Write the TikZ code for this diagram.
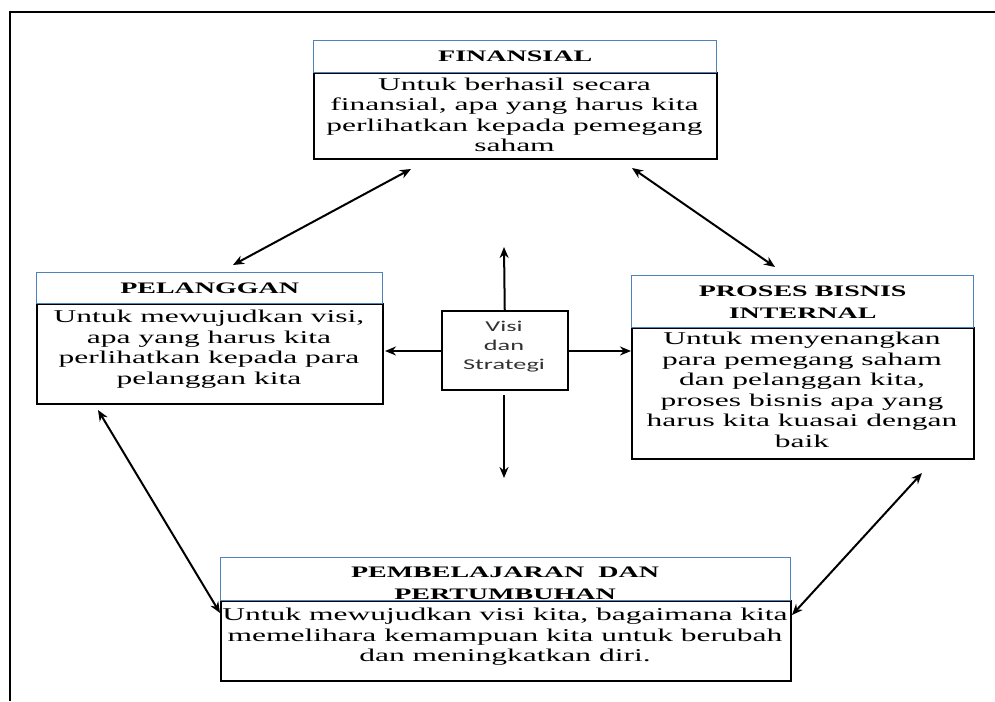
\documentclass[tikz,border=0pt]{standalone}
\usepackage{fontspec}
\setmainfont{Liberation Serif}[FakeStretch=1.75]
\newfontfamily\visifont{Carlito}[FakeStretch=1.75]
\usetikzlibrary{arrows.meta}
\definecolor{hdrblue}{RGB}{79,129,189}
\definecolor{visigray}{RGB}{50,50,50}
\tikzset{
  hdrbox/.style={draw=hdrblue, line width=1.4pt, rectangle, anchor=north west, inner sep=0pt,
                 font=\bfseries\fontsize{16}{22}\selectfont, align=center},
  bodybox/.style={draw=black, line width=1.9pt, rectangle, anchor=north west, inner sep=0pt},
  bodytext/.style={align=center, inner sep=0pt, font=\fontsize{18}{20.5}\selectfont},
  hdrtext/.style={align=center, inner sep=0pt, font=\bfseries\fontsize{16}{22}\selectfont},
  dblarrow/.style={{Stealth[length=11pt,width=9pt]}-{Stealth[length=11pt,width=9pt]}, line width=2pt},
  onearrow/.style={-{Stealth[length=11pt,width=9pt]}, line width=2pt}
}
\begin{document}
\begin{tikzpicture}[x=1pt,y=-1pt]
\useasboundingbox (0,0) rectangle (995,701);
% outer frame
\coordinate (ftr) at (995,12);
\coordinate (ftl) at (10,12);
\coordinate (fbl) at (10,701);
\draw[line width=1.6pt] (ftr) -- (ftl) -- (fbl);

% FINANSIAL
\node[bodybox, minimum width=403pt, minimum height=86pt] (finb) at (313,72) {};
\node[hdrbox, minimum width=403pt, minimum height=32pt] (finh) at (313,40) {FINANSIAL};
\node[bodytext] (fint) at (514.5,115) {Untuk berhasil secara\\finansial, apa yang harus kita\\perlihatkan kepada pemegang\\saham};

% PELANGGAN
\node[bodybox, minimum width=346pt, minimum height=100pt] (pelb) at (36,303) {};
\node[hdrbox, minimum width=346pt, minimum height=31pt] (pelh) at (36,272) {PELANGGAN};
\node[bodytext] (pelt) at (209,349) {Untuk mewujudkan visi,\\apa yang harus kita\\perlihatkan kepada para\\pelanggan kita};

% PROSES BISNIS INTERNAL
\node[bodybox, minimum width=342pt, minimum height=131pt] (prob) at (631,327) {};
\node[hdrbox, minimum width=342pt, minimum height=52pt] (proh) at (631,275) {PROSES BISNIS\\INTERNAL};
\node[bodytext] (prot) at (802,390) {Untuk menyenangkan\\para pemegang saham\\dan pelanggan kita,\\proses bisnis apa yang\\harus kita kuasai dengan\\baik};

% PEMBELAJARAN DAN PERTUMBUHAN
\node[bodybox, minimum width=570pt, minimum height=80pt] (pemb) at (220,600) {};
\node[hdrbox, minimum width=570pt, minimum height=43pt] (pemh) at (220,557) {};
\node[hdrtext] (pemht) at (505,583) {PEMBELAJARAN\ \ DAN\\PERTUMBUHAN};
\node[bodytext] (pemt) at (505,637) {Untuk mewujudkan visi kita, bagaimana kita\\memelihara kemampuan kita untuk berubah\\dan meningkatkan diri.};

% Visi dan Strategi
\node[draw=black, line width=1.5pt, rectangle, anchor=north west, inner sep=0pt,
      minimum width=126pt, minimum height=79pt] (visi) at (441,310) {};
\node[align=center, inner sep=0pt, text=visigray, font=\visifont\fontsize{15}{19}\selectfont] (visit) at (504,347) {Visi\\dan\\Strategi};

% arrows from Visi
\coordinate (vup) at (504,247);
\coordinate (vdn0) at (504,395);
\coordinate (vdn) at (504,478);
\coordinate (vlf) at (385,351);
\draw[onearrow] (visi.north) -- (vup);
\draw[onearrow] (vdn0) -- (vdn);
\draw[onearrow] (visi.west |- vlf) -- (vlf);
\draw[onearrow] (visi.east |- vlf) -- (prob.west |- vlf);

% diagonal double arrows
\coordinate (a1s) at (411,169);
\coordinate (a1e) at (233,265);
\coordinate (a2s) at (632,168);
\coordinate (a2e) at (775,267);
\coordinate (a3s) at (98,410);
\coordinate (a3e) at (220,613);
\coordinate (a4s) at (922,473);
\coordinate (a4e) at (792,615);
\draw[dblarrow] (a1s) -- (a1e);
\draw[dblarrow] (a2s) -- (a2e);
\draw[dblarrow] (a3s) -- (a3e);
\draw[dblarrow] (a4s) -- (a4e);
\end{tikzpicture}
\end{document}
